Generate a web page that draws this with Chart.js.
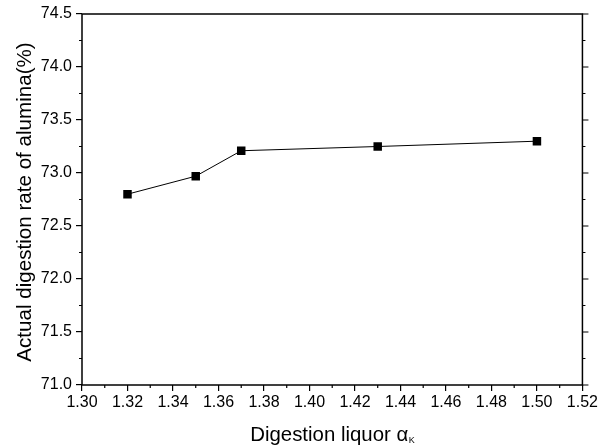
<!DOCTYPE html>
<html>
<head>
<meta charset="utf-8">
<script src="https://cdn.jsdelivr.net/npm/chart.js@4.4.0/dist/chart.umd.min.js"></script>
<style>
  html, body { margin: 0; padding: 0; background: #fff; }
  #wrap { width: 600px; height: 448px; }
</style>
</head>
<body>
<div id="wrap"><canvas id="chart" width="600" height="448"></canvas></div>
<script>
const alphaK = [1.32, 1.35, 1.37, 1.43, 1.50];
const digestionRate = [72.80, 72.97, 73.21, 73.25, 73.30];
const xTicks = [1.30, 1.32, 1.34, 1.36, 1.38, 1.40, 1.42, 1.44, 1.46, 1.48, 1.50, 1.52];
const yTicks = [71.0, 71.5, 72.0, 72.5, 73.0, 73.5, 74.0, 74.5];
const yTitle = "Actual digestion rate of alumina(%)";
const xTitle = "Digestion liquor α";
const xTitleSub = "K";

const FONT = "'Liberation Sans', Arial, sans-serif";

// frame, right-side ticks, minor ticks and axis titles
const framePlugin = {
	id: "frame",
	afterDraw(chart) {
		const ctx = chart.ctx;
		const a = chart.chartArea;
		const xs = chart.scales.x;
		const ys = chart.scales.y;
		ctx.save();
		ctx.strokeStyle = "#000";
		ctx.lineWidth = 1.5;
		ctx.strokeRect(a.left, a.top, a.right - a.left, a.bottom - a.top);

		ctx.lineWidth = 1.2;
		ctx.beginPath();
		// right side major ticks (outward)
		yTicks.forEach((v) => {
			const y = ys.getPixelForValue(v);
			ctx.moveTo(a.right, y);
			ctx.lineTo(a.right + 6, y);
		});
		// minor y ticks, left and right
		for (let i = 0; i < yTicks.length - 1; i++) {
			const y = ys.getPixelForValue((yTicks[i] + yTicks[i + 1]) / 2);
			ctx.moveTo(a.left, y);
			ctx.lineTo(a.left - 3, y);
			ctx.moveTo(a.right, y);
			ctx.lineTo(a.right + 3, y);
		}
		// minor x ticks
		for (let i = 0; i < xTicks.length - 1; i++) {
			const x = xs.getPixelForValue((xTicks[i] + xTicks[i + 1]) / 2);
			ctx.moveTo(x, a.bottom);
			ctx.lineTo(x, a.bottom + 3);
		}
		ctx.stroke();

		ctx.fillStyle = "#000";

		// y title, sized to span ~320px like the original
		ctx.font = "10px " + FONT;
		const ySize = Math.min(21, 10 * 320 / ctx.measureText(yTitle).width);
		ctx.save();
		ctx.translate(25, 202);
		ctx.rotate(-Math.PI / 2);
		ctx.font = ySize.toFixed(1) + "px " + FONT;
		ctx.textAlign = "center";
		ctx.textBaseline = "middle";
		ctx.fillText(yTitle, 0, 0);
		ctx.restore();

		// x title with subscript K
		ctx.textBaseline = "alphabetic";
		ctx.font = "10px " + FONT;
		const xSize = Math.min(21, 10 * 158 / ctx.measureText(xTitle).width);
		ctx.font = "9px " + FONT;
		const subW = ctx.measureText(xTitleSub).width;
		ctx.font = xSize.toFixed(1) + "px " + FONT;
		const mainW = ctx.measureText(xTitle).width;
		const cx = (a.left + a.right) / 2;
		const x0 = cx - (mainW + subW) / 2;
		ctx.textAlign = "left";
		ctx.fillText(xTitle, x0, 441);
		ctx.font = "9px " + FONT;
		ctx.fillText(xTitleSub, x0 + mainW + 0.5, 443);
		ctx.restore();
	},
};

const ctx = document.getElementById("chart").getContext("2d");
const chart = new Chart(ctx, {
	type: "scatter",
	data: {
		datasets: [
			{
				label: "Actual digestion rate",
				data: alphaK.map((x, i) => ({ x: x, y: digestionRate[i] })),
				showLine: true,
				borderColor: "#000",
				borderWidth: 1,
				backgroundColor: "#000",
				pointStyle: "rect",
				pointRadius: 6,
				pointBorderWidth: 0,
				tension: 0,
			},
		],
	},
	options: {
		responsive: false,
		animation: false,
		layout: { padding: { top: 14, right: 14, left: 0, bottom: 0 } },
		plugins: {
			legend: { display: false },
			tooltip: { enabled: false },
		},
		scales: {
			x: {
				type: "linear",
				min: 1.30,
				max: 1.52,
				afterBuildTicks: (s) => { s.ticks = xTicks.map((v) => ({ value: v })); },
				afterFit: (s) => { s.height = 63; },
				ticks: {
					color: "#000",
					font: { family: FONT, size: 16 },
					padding: 2,
					maxRotation: 0,
					callback: (v) => v.toFixed(2),
				},
				grid: { drawOnChartArea: false, drawTicks: true, tickLength: 6, color: "#000", lineWidth: 1.2 },
				border: { display: false },
			},
			y: {
				min: 71.0,
				max: 74.5,
				afterBuildTicks: (s) => { s.ticks = yTicks.map((v) => ({ value: v })); },
				afterFit: (s) => { s.width = 82; },
				ticks: {
					color: "#000",
					font: { family: FONT, size: 16 },
					padding: 4,
					callback: (v) => v.toFixed(1),
				},
				grid: { drawOnChartArea: false, drawTicks: true, tickLength: 6, color: "#000", lineWidth: 1.2 },
				border: { display: false },
			},
		},
	},
	plugins: [framePlugin],
});
</script>
</body>
</html>
